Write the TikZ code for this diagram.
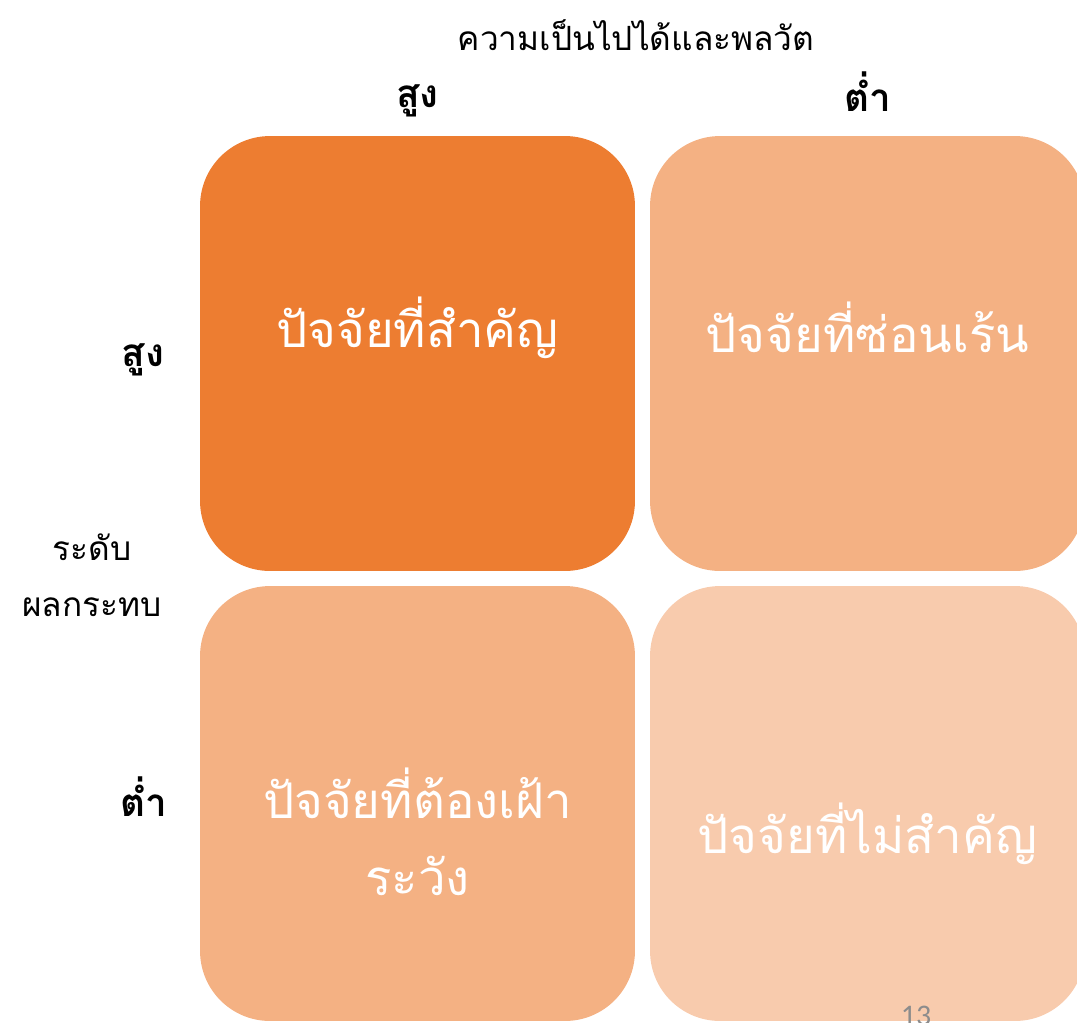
\documentclass[tikz,border=0pt]{standalone}
\usepackage{fontspec}
\newfontfamily\thaifont[Script=Thai]{Loma}
\newfontfamily\numfont{Carlito}
\definecolor{darkOrange}{HTML}{ED7D31}
\definecolor{midOrange}{HTML}{F4B183}
\definecolor{lightOrange}{HTML}{F8CBAD}
\definecolor{pageGray}{HTML}{8C8C8C}
\tikzset{
    quad box/.style={fill=#1, draw=none, rounded corners=1.4cm, minimum width=8.7cm, minimum height=8.7cm, inner sep=0pt},
    quad text/.style={text=white, font=\thaifont\fontsize{28}{44}\selectfont, align=center, inner sep=0pt},
    axis text/.style={font=\thaifont\fontsize{#1}{32}\selectfont, align=center, inner sep=0pt},
    axis head/.style={font=\thaifont\bfseries\fontsize{#1}{32}\selectfont, align=center, inner sep=0pt}
}

\begin{document}
\begin{tikzpicture}[x=0.02cm, y=-0.02cm]
    % Page frame
    \useasboundingbox (0,0) rectangle (1077,1022);
    \clip (0,0) rectangle (1077,1022);

    % Globals
    \pgfmathsetmacro{\colL}{417.5}
    \pgfmathsetmacro{\colR}{867.5}
    \pgfmathsetmacro{\rowT}{353.5}
    \pgfmathsetmacro{\rowB}{803.5}

    % Quadrants
    \node[quad box=darkOrange] (HH) at (\colL, \rowT) {};
    \node[quad box=midOrange] (HL) at (\colR, \rowT) {};
    \node[quad box=midOrange] (LH) at (\colL, \rowB) {};
    \node[quad box=lightOrange] (LL) at (\colR, \rowB) {};

    % Quadrant texts
    \node[quad text] (HH_text) at ([yshift=0.52cm]HH.center) {ปัจจัยที่สำคัญ};
    \node[quad text] (HL_text) at ([yshift=0.52cm]HL.center) {ปัจจัยที่ซ่อนเร้น};
    \node[quad text] (LH_text) at ([yshift=-0.56cm]LH.center) {ปัจจัยที่ต้องเฝ้า\\ระวัง};
    \node[quad text] (LL_text) at ([yshift=-0.6cm]LL.center) {ปัจจัยที่ไม่สำคัญ};

    % Column headers
    \node[axis text=19] (title) at (636, 35) {ความเป็นไปได้และพลวัต};
    \node[axis head=22] (colHigh) at (\colL, 101) {สูง};
    \node[axis head=22] (colLow) at (\colR, 92) {ต่ำ};

    % Row headers
    \node[axis head=22] (rowHigh) at (143, 360) {สูง};
    \node[axis head=22] (rowLow) at (144, 797) {ต่ำ};
    \node[axis text=19] (rowTitle) at (92, 575) {ระดับ\\ผลกระทบ};

    % Page number
    \node[font=\numfont\fontsize{17}{20}\selectfont, text=pageGray] (page) at (916, 1016) {13};
\end{tikzpicture}
\end{document}
